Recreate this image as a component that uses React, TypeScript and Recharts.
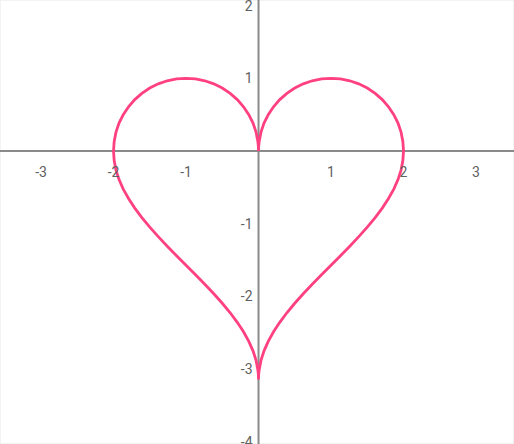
import React from 'react';
import {
  LineChart,
  Line,
  XAxis,
  YAxis,
  CartesianGrid,
  ReferenceLine,
  ReferenceDot,
} from 'recharts';

// right lobe, from the cusp at the origin over the top to (2, 0)
const rightLobeX = [0, 0.002, 0.009, 0.034, 0.076, 0.134, 0.207, 0.293, 0.391, 0.5, 0.617, 0.741, 0.869, 1, 1.131, 1.259, 1.383, 1.5, 1.609, 1.707, 1.793, 1.866, 1.924, 1.966, 1.991, 2];
const rightLobeY = [0, 0.065, 0.131, 0.259, 0.383, 0.5, 0.609, 0.707, 0.793, 0.866, 0.924, 0.966, 0.991, 1, 0.991, 0.966, 0.924, 0.866, 0.793, 0.707, 0.609, 0.5, 0.383, 0.259, 0.131, 0];

// right lower side, from (2, 0) down to the tip
const rightLowerX = [1.991, 1.966, 1.924, 1.866, 1.793, 1.707, 1.609, 1.5, 1.383, 1.259, 1.131, 1, 0.869, 0.741, 0.617, 0.5, 0.391, 0.293, 0.207, 0.134, 0.076, 0.034, 0.009, 0.002, 0];
const rightLowerY = [-0.131, -0.262, -0.393, -0.524, -0.654, -0.785, -0.916, -1.047, -1.178, -1.309, -1.44, -1.571, -1.702, -1.833, -1.963, -2.094, -2.225, -2.356, -2.487, -2.618, -2.749, -2.88, -3.011, -3.076, -3.142];

// left lower side, from the tip up to (-2, 0)
const leftLowerX = [-0.002, -0.009, -0.034, -0.076, -0.134, -0.207, -0.293, -0.391, -0.5, -0.617, -0.741, -0.869, -1, -1.131, -1.259, -1.383, -1.5, -1.609, -1.707, -1.793, -1.866, -1.924, -1.966, -1.991, -2];
const leftLowerY = [-3.076, -3.011, -2.88, -2.749, -2.618, -2.487, -2.356, -2.225, -2.094, -1.963, -1.833, -1.702, -1.571, -1.44, -1.309, -1.178, -1.047, -0.916, -0.785, -0.654, -0.524, -0.393, -0.262, -0.131, 0];

// left lobe, from (-2, 0) over the top back to the origin
const leftLobeX = [-1.991, -1.966, -1.924, -1.866, -1.793, -1.707, -1.609, -1.5, -1.383, -1.259, -1.131, -1, -0.869, -0.741, -0.617, -0.5, -0.391, -0.293, -0.207, -0.134, -0.076, -0.034, -0.009, -0.002, 0];
const leftLobeY = [0.131, 0.259, 0.383, 0.5, 0.609, 0.707, 0.793, 0.866, 0.924, 0.966, 0.991, 1, 0.991, 0.966, 0.924, 0.866, 0.793, 0.707, 0.609, 0.5, 0.383, 0.259, 0.131, 0.065, 0];

const xTicks = [-3, -2, -1, 0, 1, 2, 3];
const yTicks = [-4, -3, -2, -1, 0, 1, 2];
const xLabels = [-3, -2, -1, 1, 2, 3];
const yLabels = [-4, -3, -2, -1, 1, 2];

const pairs = (xs: number[], ys: number[]) => xs.map((x, i) => ({ x, y: ys[i] }));

const data = [
  ...pairs(rightLobeX, rightLobeY),
  ...pairs(rightLowerX, rightLowerY),
  ...pairs(leftLowerX, leftLowerY),
  ...pairs(leftLobeX, leftLobeY),
];

const labelStyle = { fontFamily: 'Roboto', fontSize: 14, fill: '#616161' };

export default function App() {
  return (
    <div style={{ position: 'absolute', left: 0, top: 0, width: 514, height: 444 }}>
      <LineChart width={514} height={444} data={data} margin={{ top: 0, right: 0, bottom: 0, left: 0 }}>
        <CartesianGrid stroke="#efefef" strokeWidth={1.5} />
        <XAxis
          dataKey="x"
          type="number"
          domain={[-3.566, 3.524]}
          ticks={xTicks}
          allowDataOverflow
          height={0}
          tick={false}
          tickLine={false}
          axisLine={false}
        />
        <YAxis
          type="number"
          domain={[-4.03, 2.077]}
          ticks={yTicks}
          allowDataOverflow
          width={0}
          tick={false}
          tickLine={false}
          axisLine={false}
        />
        <ReferenceLine x={0} stroke="#8a8a8a" strokeWidth={2} />
        <ReferenceLine y={0} stroke="#8a8a8a" strokeWidth={2} />
        {xLabels.map((v) => (
          <ReferenceDot
            key={`x${v}`}
            x={v}
            y={0}
            r={0}
            stroke="none"
            fill="none"
            label={{ value: String(v), position: 'bottom', offset: 16, style: labelStyle }}
          />
        ))}
        {yLabels.map((v) => (
          <ReferenceDot
            key={`y${v}`}
            x={0}
            y={v}
            r={0}
            stroke="none"
            fill="none"
            label={{ value: String(v), position: 'left', offset: 6, style: labelStyle }}
          />
        ))}
        <Line
          type="linear"
          dataKey="y"
          stroke="#ff4081"
          strokeWidth={2.8}
          dot={false}
          activeDot={false}
          isAnimationActive={false}
        />
      </LineChart>
    </div>
  );
}
